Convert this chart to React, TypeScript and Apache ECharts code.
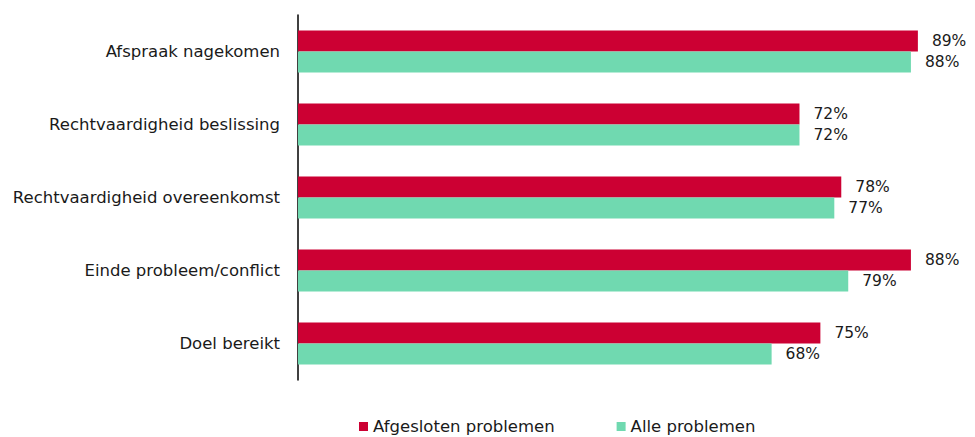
import React, { useEffect, useRef } from "react";
import * as echarts from "echarts";

const categories = [
  "Afspraak nagekomen",
  "Rechtvaardigheid beslissing",
  "Rechtvaardigheid overeenkomst",
  "Einde probleem/conflict",
  "Doel bereikt",
];
const afgesloten = [89, 72, 78, 88, 75];
const alle = [88, 72, 77, 79, 68];
const seriesNames = ["Afgesloten problemen", "Alle problemen"];

export default function App() {
  const ref = useRef<HTMLDivElement>(null);
  useEffect(() => {
    document.body.style.margin = "0";
    const chart = echarts.init(ref.current!, null, { renderer: "svg" });
    const font = "DejaVu Sans, Verdana, sans-serif";
    const label = {
      show: true,
      position: "right",
      distance: 14,
      formatter: "{c}%",
      color: "#1a1a1a",
      fontSize: 15.5,
      fontFamily: font,
    };
    chart.setOption({
      animation: false,
      grid: { left: 298, top: 15, width: 97 * 6.965, height: 365 },
      legend: {
        bottom: -3,
        left: 354,
        itemWidth: 9,
        itemHeight: 9,
        itemGap: 62,
        icon: "rect",
        textStyle: { fontSize: 16.5, fontFamily: font, color: "#1a1a1a" },
        data: seriesNames,
      },
      xAxis: { type: "value", min: 0, max: 97, show: false },
      yAxis: {
        type: "category",
        inverse: true,
        data: categories,
        axisLine: { show: true, lineStyle: { color: "#000", width: 1.5 } },
        axisTick: { show: false },
        axisLabel: { fontSize: 16.5, fontFamily: font, color: "#1a1a1a", margin: 18 },
      },
      series: [
        {
          name: seriesNames[0],
          type: "bar",
          data: afgesloten,
          barWidth: 21,
          barGap: "0%",
          itemStyle: { color: "#cc0033" },
          label,
        },
        {
          name: seriesNames[1],
          type: "bar",
          data: alle,
          barWidth: 21,
          barGap: "0%",
          itemStyle: { color: "#70d9b0" },
          label,
        },
      ],
    });
    return () => chart.dispose();
  }, []);
  return <div ref={ref} style={{ width: 975, height: 437 }} />;
}
